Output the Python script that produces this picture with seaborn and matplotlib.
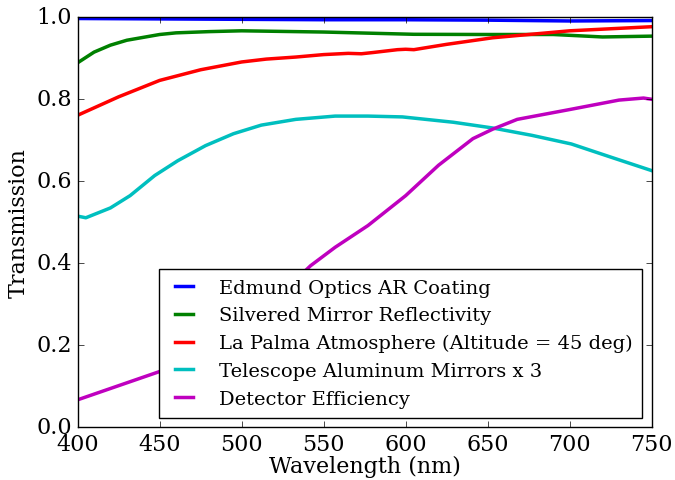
import matplotlib
matplotlib.use("Agg")
import matplotlib.pyplot as plt
import seaborn as sns

# values
wl_ar = [400, 450, 500, 550, 600, 650, 700, 750]
ar_coating = [0.997, 0.996, 0.995, 0.994, 0.994, 0.993, 0.991, 0.992]

wl_silver = [400, 410, 420, 430, 450, 460, 480, 500, 550, 580, 605, 650, 690, 720, 750]
silver = [0.889, 0.915, 0.932, 0.944, 0.958, 0.962, 0.965, 0.967, 0.964, 0.961, 0.9585,
          0.958, 0.958, 0.952, 0.954]

wl_atm = [400, 425, 450, 475, 500, 515, 533, 550, 565, 573, 580, 595, 600, 605, 625,
          653, 675, 700, 725, 750]
atmosphere = [0.761, 0.806, 0.846, 0.872, 0.891, 0.898, 0.903, 0.909, 0.912, 0.911,
              0.914, 0.921, 0.922, 0.921, 0.934, 0.950, 0.958, 0.967, 0.972, 0.977]

wl_alu = [400, 405, 420, 432, 447, 461, 478, 495, 512, 533, 557, 577, 598, 629, 653,
          677, 701, 725, 750]
aluminum = [0.515, 0.511, 0.535, 0.565, 0.614, 0.650, 0.687, 0.716, 0.737, 0.751,
            0.759, 0.759, 0.757, 0.744, 0.730, 0.712, 0.691, 0.659, 0.626]

wl_det = [400, 450, 475, 500, 520, 542, 557, 577, 600, 620, 641, 653, 668, 700, 730,
          745, 750]
detector = [0.067, 0.136, 0.18, 0.245, 0.31, 0.394, 0.439, 0.492, 0.565, 0.639, 0.704,
            0.727, 0.751, 0.775, 0.798, 0.803, 0.800]

labels = ["Edmund Optics AR Coating",
          "Silvered Mirror Reflectivity",
          "La Palma Atmosphere (Altitude = 45 deg)",
          "Telescope Aluminum Mirrors x 3",
          "Detector Efficiency"]

plt.style.use("classic")
plt.rcParams["font.family"] = ["DejaVu Serif"]

fig, ax = plt.subplots(figsize=(6.75, 4.81), dpi=100)
fig.subplots_adjust(left=0.115, right=0.9655, bottom=0.1096, top=0.962)

series = [(wl_ar, ar_coating, "b"), (wl_silver, silver, "g"), (wl_atm, atmosphere, "r"),
          (wl_alu, aluminum, "c"), (wl_det, detector, "m")]
for (x, y, c), lab in zip(series, labels):
    sns.lineplot(x=x, y=y, color=c, linewidth=2.5, label=lab, ax=ax)

ax.set_xlim(400, 750)
ax.set_ylim(0, 1.0)
ax.set_xlabel("Wavelength (nm)", fontsize=16, labelpad=0)
ax.set_ylabel("Transmission", fontsize=16)
ax.tick_params(labelsize=16)
ax.legend(loc="lower right", fontsize=14, handlelength=1.55, handletextpad=1.0,
          labelspacing=0.5, borderpad=0.5)

fig.savefig("out.png", dpi=100)
